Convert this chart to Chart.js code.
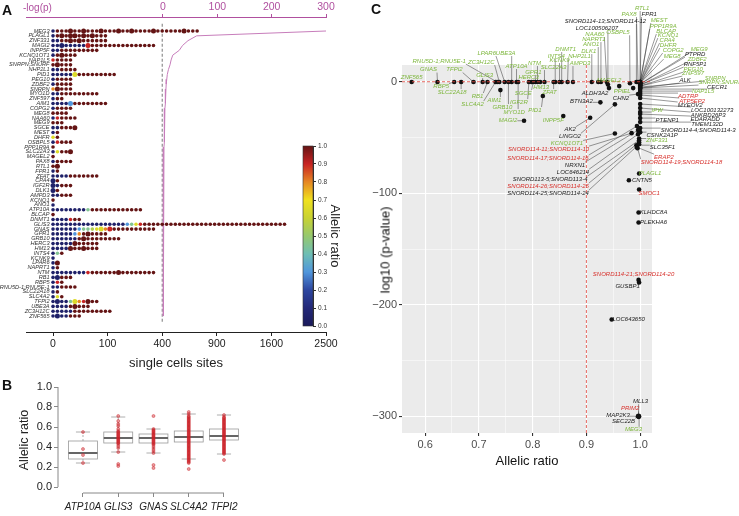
<!DOCTYPE html>
<html>
<head>
<meta charset="utf-8">
<script src="https://cdn.jsdelivr.net/npm/chart.js@4.4.0/dist/chart.umd.min.js"></script>
<style>
  body { margin: 0; background: #fff; width: 739px; height: 516px; position: relative; overflow: hidden;
         font-family: "Liberation Sans", Arial, sans-serif; }
  canvas { position: absolute; }
  .t { position: absolute; white-space: nowrap; line-height: 1; color: #111; }
</style>
</head>
<body>
<canvas id="chartA" width="350" height="380" style="left:0px;top:0px"></canvas>
<canvas id="colorBar" width="60" height="205" style="left:290px;top:135px"></canvas>
<canvas id="chartB" width="250" height="138" style="left:0px;top:378px"></canvas>
<canvas id="chartC" width="394" height="516" style="left:345px;top:0px"></canvas>

<div class="t" style="left:2px;top:3px;font-size:14px;font-weight:bold">A</div>
<div class="t" style="left:23px;top:3px;font-size:10px;color:#b0509f">-log(p)</div>
<div class="t" style="left:2px;top:378px;font-size:14px;font-weight:bold">B</div>
<div class="t" style="left:371px;top:2px;font-size:14px;font-weight:bold">C</div>
<div class="t" style="left:385px;top:250px;font-size:13px;transform:translate(-50%,-50%) rotate(-90deg)">log10 (p-value)</div>

<script>
const FONT = '"Liberation Sans", Arial, sans-serif';
const MAGENTA = '#b0509f';

// ---- panel A data ----
const genesA = ['MEG3','PLAGL1','ZNF331','MAGI2','INPP5F','KCNQ1OT1','NAP1L5','SNRPN;SNURF','NHP2L1','PID1',
  'PEG10','ZDBF2','SNRPN','MYO1D','ZNF597','AIM1','COPG2','MEG8','NAA60','MEG9',
  'SGCE','MEST','DHFR','OSBPL5','PPP1R9A','SLC22A3','MAGEL2','PAX8','RTL1','FPR1',
  'ZFAT','CPA4','IGF2R','DLK1','AMPD3','KCNQ1','ANO1','ATP10A','BLCAP','DNMT1',
  'GLIS3','GNAS','GPR1','GRB10','HERC3','HM13','INTS4','KCNK9','LPAR6','NAPRT1',
  'NTM','RB1','RBP5','RNU5D-1;RNU5E-1','SLC22A18','SLC4A2','TFPI2','UBE3A','ZC3H12C','ZNF565'];
const negLogP = [300,62,46,36,30,18,15,13,10,8, 7,6,5.5,5,4.5,4,3.6,3.3,3,2.8,
  2.6,2.4,2.2,2,1.9,1.8,1.7,1.6,1.5,1.4, 1.3,1.2,1.1,1,0.9,0.9,0.8,0.8,0.7,0.7,
  0.6,0.6,0.5,0.5,0.5,0.4,0.4,0.4,0.3,0.3, 0.3,0.3,0.2,0.2,0.2,0.2,0.1,0.1,0.1,0.1];
// one letter per single-cell site, letter = allelic ratio class, capital = larger site
const siteRatioCodes = [
  'bdddDddDdd dDdddDddDd dddDdddddd Dddd', 'bdDdDDdDdD ddd', 'bbddDdDddd ddd', 'bbBbbbbbRd dddddddddd dddd',
  'bbdddddddd d', 'bdDddd', 'rdddd', 'dDddd', 'bbdddd', 'bbbbbYdddd ddddd',
  'bdddd', 'bdddd', 'oDddd', 'bbdddddddd d', 'bdd', 'bbbbLddddd ddd', 'bdddd', 'dddd', 'brdddd', 'ddd',
  'bbdddD', 'bd', 'yd', 'brddd', 'd', 'byddD', 'd', 'bdddd', 'dD', 'bd',
  'bbbbdddddd d', 'Bd', 'Bbddd', 'Bd', 'bbddd', 'd', 'b', 'bbbbbbbbgd dddddddddd d', 'd', 'bbbbrdd',
  'bbbbbbbbbb bbbbbbblgy rddddddddd dddddddddd dddddddddd dddd', 'bbbbbblggh yYoRdddddd dddd',
  'bbbbblodDd ddd', 'bbbbbbdDdd dddddd', 'bbbbbDdddd d', 'bbbbDddDdd d', 'bgd', 'b', 'bD', 'bd',
  'bbbbbbbbrd dddddDdddd dddd', 'bBddd', 'brd', 'bbdddd', 'bd', 'byd', 'bBbbgYorDd d', 'bbbbdDddd',
  'bbbbbddddd dddd', 'bBbbddd'];
const codeRatio = { b: 0.05, l: 0.3, g: 0.45, h: 0.55, y: 0.65, o: 0.8, r: 0.9, d: 1.0 };
const siteTicks = [0, 100, 400, 900, 1600, 2500];
const logpTicks = [0, 100, 200, 300];
const SITE_CUTOFF = 400;
const DOT_STEP = 0.8;

// ---- panel B data ----
const boxGenes = ['ATP10A', 'GLIS3', 'GNAS', 'SLC4A2', 'TFPI2'];
const boxLow = [0.24, 0.35, 0.34, 0.28, 0.33];
const boxQ1 = [0.28, 0.44, 0.44, 0.45, 0.47];
const boxMedian = [0.34, 0.49, 0.49, 0.50, 0.51];
const boxQ3 = [0.46, 0.55, 0.53, 0.56, 0.58];
const boxHigh = [0.55, 0.70, 0.58, 0.73, 0.72];
const atp10aCells = [0.24, 0.32, 0.38, 0.55];
const glis3Cells = [0.21, 0.23, 0.35, 0.39, 0.41, 0.43, 0.44, 0.45, 0.46, 0.47, 0.48, 0.49, 0.50, 0.51,
  0.52, 0.53, 0.54, 0.55, 0.56, 0.58, 0.61, 0.63, 0.66, 0.71];
const gnasCells = [0.19, 0.22, 0.34, 0.36, 0.38, 0.40, 0.42, 0.43, 0.44, 0.45, 0.46, 0.47, 0.48, 0.49,
  0.50, 0.51, 0.52, 0.53, 0.54, 0.55, 0.56, 0.57, 0.58, 0.71];
const slc4a2Cells = [0.18, 0.24, 0.25, 0.26, 0.27, 0.28, 0.29, 0.30, 0.31, 0.32, 0.33, 0.34, 0.35, 0.36,
  0.37, 0.38, 0.39, 0.40, 0.41, 0.42, 0.43, 0.44, 0.45, 0.46, 0.47, 0.48, 0.49, 0.50, 0.51, 0.52, 0.53,
  0.54, 0.55, 0.56, 0.57, 0.58, 0.59, 0.60, 0.61, 0.62, 0.63, 0.64, 0.65, 0.66, 0.67, 0.68, 0.69, 0.70,
  0.71, 0.73, 0.75];
const tfpi2Cells = [0.27, 0.33, 0.34, 0.35, 0.36, 0.37, 0.38, 0.39, 0.40, 0.41, 0.42, 0.43, 0.44, 0.45,
  0.46, 0.47, 0.48, 0.49, 0.50, 0.51, 0.52, 0.53, 0.54, 0.55, 0.56, 0.57, 0.58, 0.59, 0.60, 0.61, 0.62,
  0.63, 0.64, 0.65, 0.66, 0.67, 0.68, 0.69, 0.70, 0.72];
const boxCells = [atp10aCells, glis3Cells, gnasCells, slc4a2Cells, tfpi2Cells];
const ratioTicks = [0, 0.2, 0.4, 0.6, 0.8, 1.0];

// ---- panel C data ----
const cGenes = ['ZNF565','GNAS','RBP5','SLC22A18','TFPI2','GLIS3','RB1','SLC4A2','RNU5D-1;RNU5E-1','ZC3H12C',
  'LPAR6','AIM1','GRB10','UBE3A','ATP10A','MYO1D','IGF2R','HERC3','SGCE','GPR1',
  'NTM','HM13','PID1','SLC22A3','ZFAT','INTS4','KCNK9','DNMT1','NHP2L1','AMPD3',
  'MAGI2','INPP5F','DLK1','ANO1','NAPRT1','NAA60','LOC100506207','ALDH3A2','MAGEL2','OSBPL5',
  'PPIEL','SNORD114-13;SNORD114-12','PAX8','RTL1','FPR1','MEST','PPP1R9A','BLCAP','KCNQ1','CPA4',
  'DHFR','COPG2','MEG8','MEG9','PTPRD','ZDBF2','RNF5P1','PEG10','ZNF597','SNRPN',
  'ALK','SNRPN;SNURF','CECR1','NAP1L5','ADTRP','ATP5EP2','MYEOV2','CHN2','LOC100132273','ANKRD26P3',
  'IPW','EDARADD','PTENP1','TMEM132D','SNORD114-4;SNORD114-3','CSNK2A1P','ZNF331','SLC35F1','ERAP2','SNORD114-19;SNORD114-18',
  'PLAGL1','CNTN5','SMOC1','KLHDC8A','PLEKHA6','SNORD114-21;SNORD114-20','GUSBP1','LOC643650','MLL3','PRIM2',
  'MAP2K3','SEC22B','MEG3','BTN3A2','AK2','LINGO2','KCNQ1OT1','SNORD114-11;SNORD114-10','SNORD114-17;SNORD114-16','NRXN1',
  'LOC646214','SNORD113-5;SNORD113-4','SNORD114-26;SNORD114-25','SNORD114-25;SNORD114-24'];
const cRatio = [0.575,0.623,0.654,0.667,0.690,0.707,0.716,0.731,0.734,0.738,
  0.748,0.740,0.755,0.761,0.770,0.773,0.793,0.798,0.801,0.805,
  0.809,0.814,0.819,0.822,0.839,0.842,0.850,0.854,0.865,0.875,
  0.784,0.857,0.910,0.922,0.927,0.938,0.940,0.942,0.961,0.981,
  0.987,0.993,0.996,1.0,1.0,1.0,1.0,1.0,1.0,1.0,
  1.0,1.0,1.0,1.0,1.0,1.0,1.0,1.0,1.0,1.0,
  1.0,1.0,1.0,1.0,1.0,1.0,1.0,0.996,1.0,1.0,
  1.0,1.0,1.0,1.0,1.0,1.0,0.998,0.993,0.994,0.995,
  0.998,0.979,0.998,0.997,0.997,0.997,0.998,0.947,0.997,0.997,
  0.996,0.997,0.998,0.926,0.907,0.953,0.953,0.984,0.994,0.996,
  0.996,0.998,0.998,0.998];
const cLogP = [-0.3,-0.3,-0.3,-0.3,-0.3,-0.3,-0.3,-0.3,-0.3,-0.3,
  -0.3,-7.5,-0.3,-0.3,-0.3,-0.3,-0.3,-0.3,-0.3,-0.3,
  -0.3,-0.3,-12.8,-0.3,-0.3,-0.3,-0.3,-0.3,-0.3,-0.3,
  -35.0,-30.8,-0.3,-0.3,-0.3,-0.3,-2.5,-5.7,-3.9,-1.4,
  -5.7,-0.3,-0.3,-0.3,-0.3,-0.3,-0.3,-0.3,-0.3,-1.2,
  -1.2,-1.2,-1.2,-2.1,-2.1,-3.0,-3.0,-3.9,-3.9,-4.8,
  -5.7,-5.7,-6.6,-8.4,-10.2,-11.9,-14.6,-11.1,-20.0,-23.6,
  -27.2,-29.0,-32.6,-36.2,-41.6,-45.2,-50.9,-56.9,-58.7,-59.6,
  -82.3,-88.3,-96.7,-117.3,-126.3,-177.7,-180.0,-213.2,-300.0,-300.5,
  -300.0,-299.5,-300.2,-18.5,-32.3,-20.3,-46.4,-46.1,-39.8,-43.4,
  -47.0,-52.4,-54.2,-56.0];
const cGroup = ['g','g','g','g','g','g','g','g','g','g', 'g','g','g','g','g','g','g','g','g','g',
  'g','g','g','g','g','g','g','g','g','g', 'g','g','g','g','g','g','k','k','g','g',
  'g','k','g','g','k','g','g','g','g','g', 'g','g','g','g','k','g','k','g','g','g',
  'k','g','k','g','r','r','k','k','k','k', 'g','k','k','k','k','k','g','k','r','r',
  'g','k','r','k','k','r','k','k','k','r', 'k','k','g','k','k','k','g','r','r','k',
  'k','k','r','k'];
const cXTicks = [0.6, 0.65, 0.7, 0.75, 0.8, 0.85, 0.9, 0.95, 1.0];
const cYTicks = [0, -50, -100, -150, -200, -250, -300];
const RATIO_CUTOFF = 0.9;
const P_LINE = 0;

// label placement (pixel offset of the label centre from its point)
const cLabelOffset = [[0,-5],[-9,-12.5],[-13,4.5],[-9,10],[-19,-12.5],[2,-7],[-10,14],[-23,22],[-58,-21],[-18,-20],
  [-18,-29],[-6,10],[-6,25],[-6,-29],[0,-16],[-4,30],[-10,20],[-3,-5],[-10,11],[-2,-10],
  [-3,-19],[1,5],[-8,14],[9,-15],[-4,10],[1,-26],[0,-22],[4,-33],[12,-26],[7,-19],
  [-16,0],[-10,4],[-3,-31],[-7,-38],[-7,-43],[-12,-48],[-11,-56],[-14,5.5],[-10,-6],[-12,-51],
  [-11,3],[-31,-61],[-9,-68],[2,-74],[9,-68],[19,-62],[23,-56],[26,-51],[28,-47],[27,-43],
  [28,-38],[33,-33],[32,-27],[59,-35],[55,-30],[57,-26],[55,-21],[53,-17],[53,-13],[75,-9],
  [45,-8],[80,-6],[77,-2],[63,0],[48,3],[52,6],[50,7],[-17,4],[72,6],[68,7],
  [17,-2],[65,5],[27,2],[67,2],[58,2],[22,3],[18,2],[26,2],[27,10],[44,14],
  [11,0],[13,0],[10,4],[15,0],[15,0],[-5,-6],[-11.5,4],[17,0],[2,-15],[-8.5,-8.4],
  [-20,-1],[-15,5.6],[-5.5,13.3],[-19,-1],[-20,12],[-45,32],[-48,10],[-83,16],[-89,32],[-63,35],
  [-65,38],[-89,39],[-91,44],[-91,49]];
const groupColor = { g: '#7db63c', r: '#d7302b', k: '#222' };

// allelic ratio colour scale
const colorStops = [[26,26,90],[35,40,120],[45,70,160],[80,150,220],[110,190,180],[150,200,110],
  [200,210,50],[240,225,30],[230,135,35],[200,35,35],[100,20,20]];
function ratioColor(r) {
  const p = Math.max(0, Math.min(1, r)) * 10;
  const i = Math.min(9, Math.floor(p)), f = p - i;
  const a = colorStops[i], b = colorStops[i + 1];
  return `rgb(${a.map((v, k) => Math.round(v + (b[k] - v) * f)).join(',')})`;
}

// ---------- Panel A ----------
const dotPoints = [], dotColors = [], dotSizes = [];
siteRatioCodes.forEach((codes, row) => {
  codes.replace(/ /g, '').split('').forEach((c, k) => {
    dotPoints.push({ x: k * DOT_STEP, y: row });
    dotColors.push(ratioColor(codeRatio[c.toLowerCase()]));
    dotSizes.push(c === c.toUpperCase() ? 2.5 : 1.8);
  });
});

const geneLabels = {
  id: 'geneLabels',
  afterDatasetsDraw(chart) {
    const { ctx, scales: { x, y } } = chart;
    ctx.save();
    ctx.font = `italic 5.6px ${FONT}`;
    ctx.fillStyle = '#333';
    ctx.textAlign = 'right';
    ctx.textBaseline = 'middle';
    genesA.forEach((g, i) => ctx.fillText(g, x.getPixelForValue(0) - 3.5, y.getPixelForValue(i)));
    ctx.restore();
  }
};

new Chart(document.getElementById('chartA'), {
  type: 'scatter',
  data: {
    datasets: [
      { data: dotPoints, xAxisID: 'x', yAxisID: 'y', pointBackgroundColor: dotColors,
        pointRadius: dotSizes, pointBorderWidth: 0 },
      { type: 'line', data: negLogP.map((v, i) => ({ x: v, y: i })), xAxisID: 'xTop', yAxisID: 'y',
        borderColor: '#c77dbb', borderWidth: 1, pointRadius: 0, fill: false },
      { type: 'line', data: [{ x: Math.sqrt(SITE_CUTOFF), y: -1.5 }, { x: Math.sqrt(SITE_CUTOFF), y: 60.5 }],
        xAxisID: 'x', yAxisID: 'y', borderColor: '#777', borderWidth: 1, borderDash: [3, 2], pointRadius: 0 }
    ]
  },
  options: {
    responsive: false, animation: false, devicePixelRatio: 1,
    layout: { padding: { left: 26, right: 24, top: 0, bottom: 0 } },
    plugins: { legend: { display: false }, tooltip: { enabled: false } },
    scales: {
      x: {
        type: 'linear', position: 'bottom', min: -4.95, max: 50,
        afterBuildTicks: s => { s.ticks = siteTicks.map(v => ({ value: Math.sqrt(v) })); },
        afterFit: s => { s.height = 48; },
        ticks: { callback: v => String(Math.round(v * v)), font: { size: 10.5, family: FONT }, color: '#222', padding: 2, maxRotation: 0 },
        grid: { drawOnChartArea: false, tickLength: 4, color: '#222' },
        border: { color: '#222' },
        title: { display: true, text: 'single cells sites', font: { size: 13, family: FONT }, color: '#222', padding: { top: 0, bottom: 9 } }
      },
      xTop: {
        type: 'linear', position: 'top', min: -252, max: 300,
        afterBuildTicks: s => { s.ticks = logpTicks.map(v => ({ value: v })); },
        afterFit: s => { s.height = 17; },
        ticks: { color: MAGENTA, font: { size: 10.5, family: FONT }, padding: 1, maxRotation: 0 },
        grid: { drawOnChartArea: false, tickLength: 3, color: MAGENTA },
        border: { color: MAGENTA }
      },
      y: { type: 'linear', display: false, reverse: true, min: -2.9, max: 62.3 }
    }
  },
  plugins: [geneLabels]
});

// colour bar
const gradientFill = {
  id: 'gradientFill',
  beforeDatasetsDraw(chart) {
    const { ctx, chartArea: a, scales: { y } } = chart;
    const g = ctx.createLinearGradient(0, y.getPixelForValue(0), 0, y.getPixelForValue(1));
    colorStops.forEach((c, i) => g.addColorStop(i / 10, `rgb(${c.join(',')})`));
    ctx.save();
    ctx.fillStyle = g;
    ctx.fillRect(a.left, a.top, a.right - a.left, a.bottom - a.top);
    ctx.strokeStyle = '#333';
    ctx.lineWidth = 0.6;
    ctx.strokeRect(a.left, a.top, a.right - a.left, a.bottom - a.top);
    ctx.restore();
  }
};

new Chart(document.getElementById('colorBar'), {
  type: 'scatter',
  data: { datasets: [] },
  options: {
    responsive: false, animation: false, devicePixelRatio: 1,
    layout: { padding: { left: 13, right: 0, top: 11, bottom: 14 } },
    plugins: { legend: { display: false }, tooltip: { enabled: false } },
    scales: {
      x: { display: false, min: 0, max: 1 },
      y: {
        position: 'right', min: 0, max: 1,
        afterFit: s => { s.width = 37; },
        ticks: { stepSize: 0.1, callback: v => v.toFixed(1), font: { size: 6.5, family: FONT }, color: '#333', padding: 2 },
        grid: { drawOnChartArea: false, tickLength: 3, color: '#333' },
        border: { color: '#333' },
        title: { display: true, text: 'Allelic ratio', font: { size: 13, family: FONT }, color: '#222', padding: { top: 8 } }
      }
    }
  },
  plugins: [gradientFill]
});

// ---------- Panel B ----------
const boxDraw = {
  id: 'boxDraw',
  beforeDatasetsDraw(chart) {
    const { ctx, chartArea: a, scales: { x, y } } = chart;
    ctx.save();
    // detached axis lines
    ctx.strokeStyle = '#888';
    ctx.lineWidth = 1;
    ctx.beginPath();
    ctx.moveTo(a.left, y.getPixelForValue(0)); ctx.lineTo(a.left, y.getPixelForValue(1));
    ctx.moveTo(x.getPixelForValue(1), a.bottom); ctx.lineTo(x.getPixelForValue(boxGenes.length), a.bottom);
    ctx.stroke();
    boxGenes.forEach((g, i) => {
      const cx = x.getPixelForValue(i + 1);
      const hw = x.getPixelForValue(i + 1.41) - cx;
      const cw = x.getPixelForValue(i + 1.2) - cx;
      const lo = y.getPixelForValue(boxLow[i]), q1 = y.getPixelForValue(boxQ1[i]);
      const md = y.getPixelForValue(boxMedian[i]), q3 = y.getPixelForValue(boxQ3[i]);
      const hi = y.getPixelForValue(boxHigh[i]);
      ctx.strokeStyle = '#999';
      ctx.lineWidth = 0.8;
      ctx.setLineDash([2, 2]);
      ctx.beginPath();
      ctx.moveTo(cx, q1); ctx.lineTo(cx, lo);
      ctx.moveTo(cx, q3); ctx.lineTo(cx, hi);
      ctx.stroke();
      ctx.setLineDash([]);
      ctx.beginPath();
      ctx.moveTo(cx - cw, lo); ctx.lineTo(cx + cw, lo);
      ctx.moveTo(cx - cw, hi); ctx.lineTo(cx + cw, hi);
      ctx.stroke();
      ctx.fillStyle = '#fff';
      ctx.fillRect(cx - hw, q3, 2 * hw, q1 - q3);
      ctx.strokeRect(cx - hw, q3, 2 * hw, q1 - q3);
      ctx.strokeStyle = '#555';
      ctx.lineWidth = 1.8;
      ctx.beginPath();
      ctx.moveTo(cx - hw, md); ctx.lineTo(cx + hw, md);
      ctx.stroke();
    });
    ctx.restore();
  }
};

const cellPoints = [];
boxCells.forEach((vals, i) => vals.forEach(v => cellPoints.push({ x: i + 1, y: v })));

new Chart(document.getElementById('chartB'), {
  type: 'scatter',
  data: {
    datasets: [{ data: cellPoints, pointRadius: 1.5, pointBackgroundColor: 'rgba(204,34,41,0.45)',
      pointBorderColor: 'rgba(204,34,41,0.75)', pointBorderWidth: 0.6 }]
  },
  options: {
    responsive: false, animation: false, devicePixelRatio: 1,
    layout: { padding: { left: 0, right: 5, top: 9, bottom: 0 } },
    plugins: { legend: { display: false }, tooltip: { enabled: false } },
    scales: {
      x: {
        type: 'linear', min: 0.291, max: 5.596,
        afterBuildTicks: s => { s.ticks = boxGenes.map((g, i) => ({ value: i + 1 })); },
        afterFit: s => { s.height = 23; },
        ticks: { callback: v => boxGenes[Math.round(v) - 1], font: { size: 10, style: 'italic', family: FONT },
          color: '#222', padding: 4, maxRotation: 0, autoSkip: false },
        grid: { drawOnChartArea: false, tickLength: 4, color: '#888' },
        border: { display: false }
      },
      y: {
        min: -0.06, max: 1.0,
        afterBuildTicks: s => { s.ticks = ratioTicks.map(v => ({ value: v })); },
        afterFit: s => { s.width = 58; },
        ticks: { callback: v => v.toFixed(1), font: { size: 11, family: FONT }, color: '#222', padding: 2 },
        grid: { drawOnChartArea: false, tickLength: 4, color: '#888' },
        border: { display: false },
        title: { display: true, text: 'Allelic ratio', font: { size: 12.5, family: FONT }, color: '#222', padding: { top: 17 } }
      }
    }
  },
  plugins: [boxDraw]
});

// ---------- Panel C ----------
const isMajorX = v => Math.abs(v * 10 - Math.round(v * 10)) < 1e-6;
const isMajorY = v => v % 100 === 0;

const panelBg = {
  id: 'panelBg',
  beforeDraw(chart) {
    const { ctx, chartArea: a } = chart;
    ctx.save();
    ctx.fillStyle = '#ebebeb';
    ctx.fillRect(a.left, a.top, a.right - a.left, a.bottom - a.top);
    ctx.restore();
  }
};

function labelBoxes(chart) {
  const { ctx, scales: { x, y } } = chart;
  ctx.font = `italic 6px ${FONT}`;
  return cGenes.map((name, i) => {
    const px = x.getPixelForValue(cRatio[i]), py = y.getPixelForValue(cLogP[i]);
    const lx = px + cLabelOffset[i][0], ly = py + cLabelOffset[i][1];
    return { name, px, py, lx, ly, w: ctx.measureText(name).width, h: 6 };
  });
}

const repelLabels = {
  id: 'repelLabels',
  beforeDatasetsDraw(chart) {
    const { ctx } = chart;
    ctx.save();
    const boxes = labelBoxes(chart);
    ctx.strokeStyle = '#333';
    ctx.lineWidth = 0.5;
    boxes.forEach(b => {
      const ex = Math.min(Math.max(b.px, b.lx - b.w / 2), b.lx + b.w / 2);
      const ey = Math.min(Math.max(b.py, b.ly - b.h / 2), b.ly + b.h / 2);
      if (Math.hypot(ex - b.px, ey - b.py) > 3) {
        ctx.beginPath(); ctx.moveTo(b.px, b.py); ctx.lineTo(ex, ey); ctx.stroke();
      }
    });
    ctx.restore();
  },
  afterDatasetsDraw(chart) {
    const { ctx } = chart;
    ctx.save();
    const boxes = labelBoxes(chart);
    ctx.textAlign = 'center';
    ctx.textBaseline = 'middle';
    boxes.forEach((b, i) => {
      ctx.fillStyle = groupColor[cGroup[i]];
      ctx.fillText(b.name, b.lx, b.ly);
    });
    ctx.restore();
  }
};

new Chart(document.getElementById('chartC'), {
  type: 'scatter',
  data: {
    datasets: [
      { type: 'line', data: [{ x: RATIO_CUTOFF, y: 15 }, { x: RATIO_CUTOFF, y: -315 }], borderColor: '#e0443c',
        borderWidth: 0.8, borderDash: [3, 2], pointRadius: 0 },
      { type: 'line', data: [{ x: 0.557, y: P_LINE }, { x: 1.022, y: P_LINE }], borderColor: '#e0443c',
        borderWidth: 0.8, borderDash: [3, 2], pointRadius: 0 },
      { data: cGenes.map((g, i) => ({ x: cRatio[i], y: cLogP[i] })), pointRadius: 2.3,
        pointBackgroundColor: '#111', pointBorderWidth: 0 }
    ]
  },
  options: {
    responsive: false, animation: false, devicePixelRatio: 1,
    layout: { padding: { left: 0, right: 87, top: 65, bottom: 0 } },
    plugins: { legend: { display: false }, tooltip: { enabled: false } },
    scales: {
      x: {
        type: 'linear', min: 0.557, max: 1.022,
        afterBuildTicks: s => { s.ticks = cXTicks.map(v => ({ value: v })); },
        afterFit: s => { s.height = 83; },
        ticks: { callback: v => isMajorX(v) ? v.toFixed(1) : '', font: { size: 11, family: FONT }, color: '#4d4d4d',
          padding: 2, maxRotation: 0, autoSkip: false },
        grid: { color: '#fff', lineWidth: c => (c.tick && isMajorX(c.tick.value)) ? 1.1 : 0.5,
          tickColor: c => (c.tick && isMajorX(c.tick.value)) ? '#333' : 'rgba(0,0,0,0)', tickLength: 3 },
        border: { display: false },
        title: { display: true, text: 'Allelic ratio', font: { size: 13, family: FONT }, color: '#111', padding: { top: 0, bottom: 47 } }
      },
      y: {
        type: 'linear', min: -315, max: 15,
        afterBuildTicks: s => { s.ticks = cYTicks.map(v => ({ value: v })); },
        afterFit: s => { s.width = 57; },
        ticks: { callback: v => isMajorY(v) ? (v < 0 ? '\u2212' + (-v) : '0') : '', font: { size: 11, family: FONT },
          color: '#4d4d4d', padding: 2, autoSkip: false },
        grid: { color: '#fff', lineWidth: c => (c.tick && isMajorY(c.tick.value)) ? 1.1 : 0.5,
          tickColor: c => (c.tick && isMajorY(c.tick.value)) ? '#333' : 'rgba(0,0,0,0)', tickLength: 3 },
        border: { display: false }
      }
    }
  },
  plugins: [panelBg, repelLabels]
});
</script>
</body>
</html>
